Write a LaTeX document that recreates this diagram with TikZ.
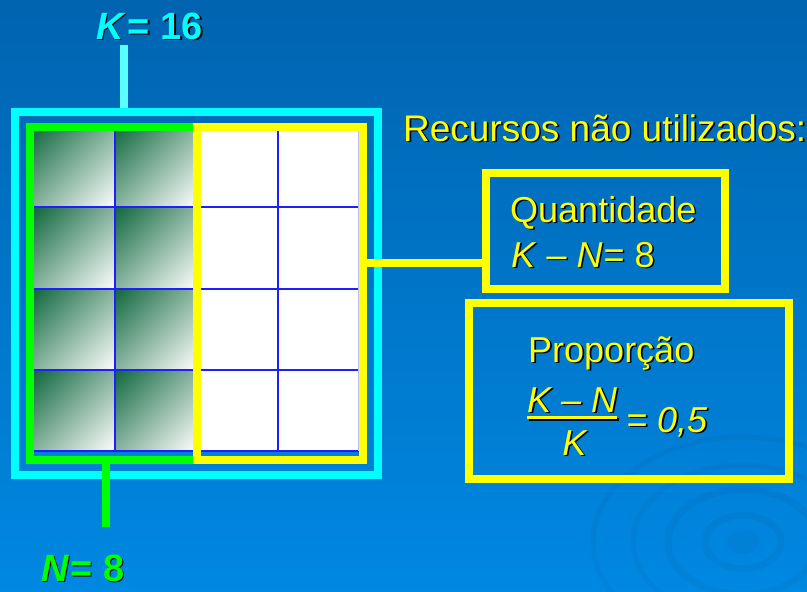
\documentclass[tikz,border=0pt]{standalone}
\usepackage{fontspec}
\setmainfont{Liberation Sans}
\usepackage{xcolor}
\usepackage{tikz}
\usetikzlibrary{positioning}
\usetikzlibrary{shadings}

\definecolor{bgtop}{RGB}{0,100,176}
\definecolor{bgbot}{RGB}{0,136,226}
\definecolor{cellgreen}{RGB}{16,104,62}
\definecolor{gridblue}{RGB}{30,30,255}
\definecolor{kcyan}{RGB}{0,255,255}
\definecolor{klight}{RGB}{90,255,255}
\definecolor{ngreen}{RGB}{0,255,0}
\definecolor{rsyellow}{RGB}{255,255,0}

% text with a small dark drop shadow
\newcommand{\shadowed}[2]{\makebox[0pt][l]{\kern1.6pt\raisebox{-1.6pt}{\textcolor{black}{#2}}}\textcolor{#1}{#2}}

\tikzset{
  frame/.style={draw=#1, line width=8pt, inner sep=0pt},
  bigtext/.style={font=\fontsize{38}{40}\selectfont\bfseries, inner sep=0pt, anchor=base west},
  saytext/.style={font=\fontsize{36}{40}\selectfont, inner sep=0pt, anchor=base west},
  gridline/.style={draw=gridblue, line width=2pt},
  ripple/.style={draw=black, opacity=0.035},
}

\begin{document}
\begin{tikzpicture}[x=1pt,y=-1pt]
		\useasboundingbox (0,0) rectangle (807,592);
		\shade[top color=bgtop, bottom color=bgbot] (0,0) rectangle (807,592);
		% ripples
		\foreach \r/\w in {38/7, 75/7, 110/5, 150/5}
			\draw[ripple, line width=\w pt] (743,542) ellipse [x radius=\r, y radius=0.7*\r];
		\fill[black, opacity=0.03] (743,542) ellipse [x radius=16, y radius=12];
		
		% the sixteen cells
		\fill[white] (34,126) rectangle (359,451);
		\foreach \c in {0,1}
			\foreach \r in {0,...,3}
				\shade[upper left=cellgreen, upper right=cellgreen!50!white, lower left=cellgreen!50!white, lower right=white]
					({34+81.25*\c},{126+81.25*\r}) rectangle ++(81.25,81.25);
		\foreach \i in {1,2,3}
			\draw[gridline] ({34+81.25*\i},126) -- ++(0,325);
		\foreach \j in {1,...,4}
			\draw[gridline] (34,{126+81.25*\j}) -- ++(325,0);
		\draw[gridblue!30, line width=1.5pt] (359,126) -- (359,451);
		
		\node[frame=ngreen, minimum width=167pt, minimum height=333pt] at (113.5,293.5) (used) {};
		\node[frame=rsyellow, minimum width=166pt, minimum height=333pt] at (280,293.5) (free) {};
		\node[frame=kcyan, minimum width=363pt, minimum height=363pt] at (196.5,293.5) (total) {};
		
		\node[bigtext] at (96,39) (klabel) {\shadowed{kcyan}{\textit{K}\kern2pt= 16}};
		\coordinate (ktop) at (124,45);
		\draw[klight, line width=8pt] (ktop) -- (ktop |- total.north);
		
		\node[bigtext] at (41,581) (nlabel) {\shadowed{ngreen}{\textit{N}\kern1pt= 8}};
		\coordinate (nbot) at (106,527);
		\draw[ngreen, line width=8pt] (used.south -| nbot) -- (nbot);
		
		\node[saytext, font=\fontsize{37}{40}\selectfont] at (403,141) (unused) {\shadowed{rsyellow}{Recursos não utilizados:}};
		
		\node[frame=rsyellow, minimum width=239pt, minimum height=116pt] at (605.5,231) (qbox) {};
		\node[saytext] at (510,222) (qtitle) {\shadowed{rsyellow}{Quantidade}};
		\node[saytext] at (511,267) (qvalue) {\shadowed{rsyellow}{\textit{K} – \textit{N}\kern1pt= 8}};
		\draw[rsyellow, line width=8pt] ([yshift=30.5pt]free.east) -- ([yshift=30.5pt]free.east -| qbox.west);
		
		\node[frame=rsyellow, minimum width=320pt, minimum height=176pt] at (629,391) (pbox) {};
		\node[saytext] at (528,362) (ptitle) {\shadowed{rsyellow}{Proporção}};
		\node[saytext] at (527,412) (num) {\shadowed{rsyellow}{\textit{K – N}}};
		\draw[black, line width=3pt] ([xshift=1.6pt,yshift=-5.6pt]num.south west) -- ([xshift=1.6pt,yshift=-5.6pt]num.south east);
		\draw[rsyellow, line width=3pt] ([yshift=-4pt]num.south west) -- ([yshift=-4pt]num.south east);
		\node[saytext, anchor=base] at (575,455) (den) {\shadowed{rsyellow}{\textit{K}}};
		\node[saytext] at (626,432) (pvalue) {\shadowed{rsyellow}{\textit{= 0,5}}};
	\end{tikzpicture}
\end{document}
